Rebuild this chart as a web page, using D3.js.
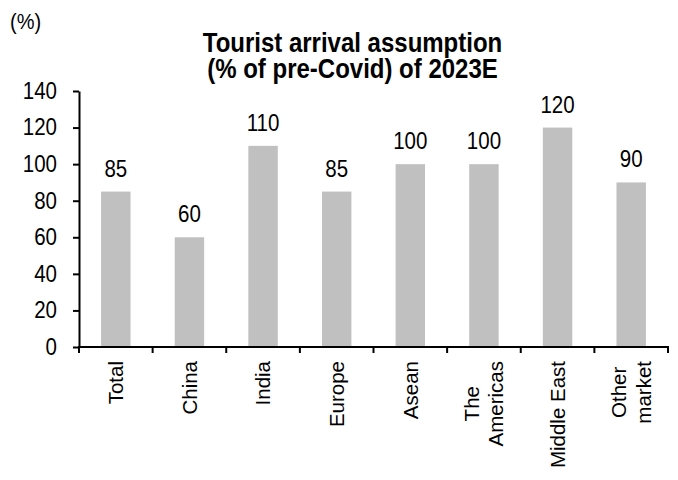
<!DOCTYPE html>
<html>
<head>
<meta charset="utf-8">
<script src="https://cdn.jsdelivr.net/npm/d3@7"></script>
<style>
  html, body { margin: 0; padding: 0; background: #fff; }
  svg { display: block; font-family: "Liberation Sans", Arial, sans-serif; }
</style>
</head>
<body>
<svg id="chart" width="678" height="480"></svg>
<script>
// Market labels (multi-line labels split into lines)
const categories = ["Total", "China", "India", "Europe", "Asean", "The\nAmericas", "Middle East", "Other\nmarket"];
// Tourist arrivals in 2023E as % of pre-Covid level
const values = [85, 60, 110, 85, 100, 100, 120, 90];
const yTicks = [0, 20, 40, 60, 80, 100, 120, 140];
const titleLines = ["Tourist arrival assumption", "(% of pre-Covid) of 2023E"];
const unitLabel = "(%)";

const svg = d3.select("#chart");
const margin = { left: 79, right: 10, top: 91, bottom: 133 };
const width = 678, height = 480;
const stretch = 1.13; // horizontal glyphs are drawn slightly taller than wide

const x = d3.scaleBand()
  .domain(categories)
  .range([margin.left, width - margin.right])
  .paddingInner(0.6)
  .paddingOuter(0.3);

const y = d3.scaleLinear()
  .domain([0, 140])
  .range([height - margin.bottom, margin.top]);

// Bars
svg.append("g").selectAll("rect")
  .data(values)
  .join("rect")
  .attr("x", (d, i) => x(categories[i]))
  .attr("y", d => y(d))
  .attr("width", x.bandwidth())
  .attr("height", d => y(0) - y(d))
  .attr("fill", "#c0c0c0");

// Value labels
svg.append("g").selectAll("text")
  .data(values)
  .join("text")
  .attr("transform", (d, i) =>
    `translate(${x(categories[i]) + x.bandwidth() / 2},${y(d) - 15}) scale(1,${stretch})`)
  .attr("text-anchor", "middle")
  .attr("font-size", 20.5)
  .attr("fill", "#000")
  .text(d => d);

// Y axis
const yAxis = svg.append("g")
  .attr("transform", `translate(${margin.left},0)`)
  .call(d3.axisLeft(y).tickValues(yTicks).tickSize(6).tickSizeOuter(0).tickPadding(16));
yAxis.select(".domain").attr("stroke", "#000").attr("stroke-width", 2);
yAxis.selectAll(".tick line").attr("stroke", "#000").attr("stroke-width", 2);
yAxis.selectAll(".tick text")
  .attr("font-size", 20.5)
  .attr("fill", "#000")
  .attr("font-family", "Liberation Sans, Arial, sans-serif")
  .attr("transform", `scale(1,${stretch})`);

// X axis: ticks at band boundaries
const x0 = y(0);
const bandStep = x.step();
const boundaries = d3.range(categories.length + 1).map(i => x.range()[0] + i * bandStep);
const xAxis = svg.append("g");
xAxis.append("line")
  .attr("x1", margin.left - 1).attr("x2", boundaries[boundaries.length - 1] + 1)
  .attr("y1", x0).attr("y2", x0)
  .attr("stroke", "#000").attr("stroke-width", 2);
xAxis.selectAll("line.tick")
  .data(boundaries)
  .join("line")
  .attr("class", "tick")
  .attr("x1", d => d).attr("x2", d => d)
  .attr("y1", x0).attr("y2", x0 + 6)
  .attr("stroke", "#000").attr("stroke-width", 2);

// Rotated category labels: lines centred on each other, longest line ending
// just below the axis
const lineHeight = 24.5;
const labelFont = 20.5;
const labelTop = x0 + 14;
categories.forEach(cat => {
  const lines = cat.split("\n");
  const cx = x(cat) + x.bandwidth() / 2;
  const g = xAxis.append("g")
    .attr("transform", `translate(${cx},${labelTop}) rotate(-90)`);
  const texts = lines.map((ln, j) => g.append("text")
    .attr("x", 0)
    .attr("y", (j - (lines.length - 1) / 2) * lineHeight)
    .attr("dy", "0.35em")
    .attr("text-anchor", "middle")
    .attr("font-size", labelFont)
    .attr("fill", "#000")
    .text(ln));
  const longest = d3.max(texts, t => t.node().getComputedTextLength());
  texts.forEach(t => t.attr("x", -longest / 2));
});

// Title (one text element, two lines)
const title = svg.append("text")
  .attr("text-anchor", "middle")
  .attr("font-size", 24)
  .attr("font-weight", "bold")
  .attr("fill", "#000")
  .attr("transform", `translate(352.5,51.5) scale(1,${stretch})`);
title.selectAll("tspan")
  .data(titleLines)
  .join("tspan")
  .attr("x", 0)
  .attr("y", (d, i) => i * 26.8 / stretch)
  .text(d => d);

// Unit label
svg.append("text")
  .attr("transform", `translate(10,29) scale(1,${stretch})`)
  .attr("font-size", 20)
  .attr("fill", "#000")
  .text(unitLabel);
</script>
</body>
</html>
